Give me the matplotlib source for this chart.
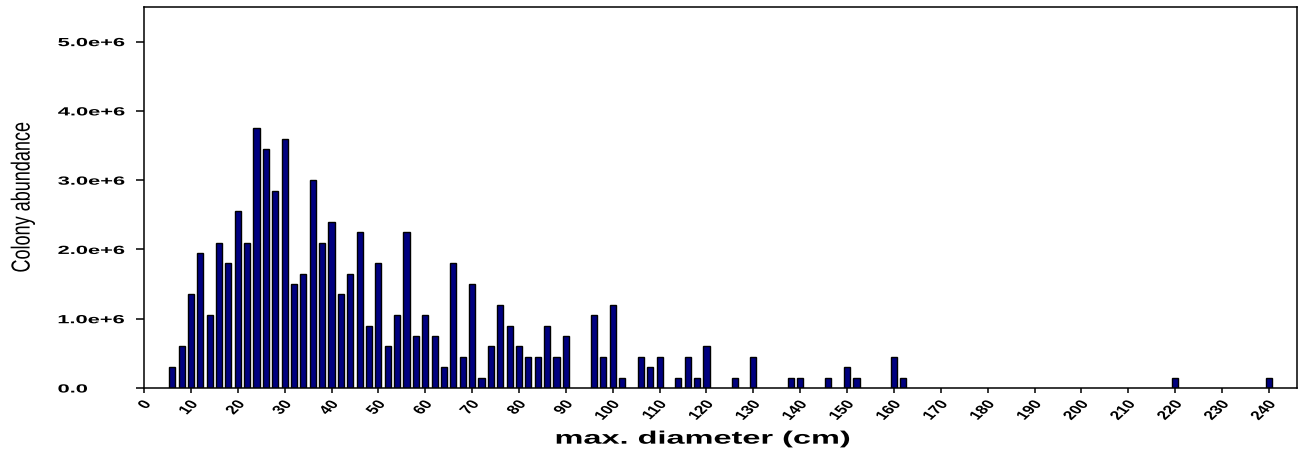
import matplotlib
matplotlib.use("Agg")
import matplotlib.pyplot as plt
from matplotlib.font_manager import FontProperties
from matplotlib.patheffects import AbstractPathEffect
from matplotlib.transforms import Affine2D

# ---- data ----
diameter_cm = [6, 8, 10, 12, 14, 16, 18, 20, 22, 24, 26, 28, 30, 32, 34, 36, 38, 40,
               42, 44, 46, 48, 50, 52, 54, 56, 58, 60, 62, 64, 66, 68, 70, 72, 74,
               76, 78, 80, 82, 84, 86, 88, 90, 96, 98, 100, 102, 106, 108, 110, 114,
               116, 118, 120, 126, 130, 138, 140, 146, 150, 152, 160, 162, 220, 240]
colony_abundance = [3.0e5, 6.0e5, 1.35e6, 1.95e6, 1.05e6, 2.10e6, 1.80e6, 2.55e6, 2.10e6,
                    3.75e6, 3.45e6, 2.85e6, 3.60e6, 1.50e6, 1.65e6, 3.00e6, 2.10e6, 2.40e6,
                    1.35e6, 1.65e6, 2.25e6, 9.0e5, 1.80e6, 6.0e5, 1.05e6, 2.25e6, 7.5e5,
                    1.05e6, 7.5e5, 3.0e5, 1.80e6, 4.5e5, 1.50e6, 1.5e5, 6.0e5, 1.20e6,
                    9.0e5, 6.0e5, 4.5e5, 4.5e5, 9.0e5, 4.5e5, 7.5e5, 1.05e6, 4.5e5, 1.20e6,
                    1.5e5, 4.5e5, 3.0e5, 4.5e5, 1.5e5, 4.5e5, 1.5e5, 6.0e5, 1.5e5, 4.5e5,
                    1.5e5, 1.5e5, 1.5e5, 3.0e5, 1.5e5, 4.5e5, 1.5e5, 1.5e5, 1.5e5]
x_ticks = list(range(0, 241, 10))
x_tick_labels = [str(v) for v in x_ticks]
y_ticks = [0, 1e6, 2e6, 3e6, 4e6, 5e6]
y_tick_labels = ["0.0", "1.0e+6", "2.0e+6", "3.0e+6", "4.0e+6", "5.0e+6"]
x_label = "max. diameter (cm)"
y_label = "Colony abundance"


class HStretch(AbstractPathEffect):
    """Stretch rendered glyphs horizontally (text stays real text)."""
    def __init__(self, sx, anchor="center"):
        super().__init__()
        self.sx = sx
        self.anchor = anchor

    def draw_path(self, renderer, gc, tpath, affine, rgbFace=None):
        bb = tpath.get_extents(affine)
        if self.anchor == "left":
            cx = bb.x0
        elif self.anchor == "right":
            cx = bb.x1
        else:
            cx = 0.5 * (bb.x0 + bb.x1)
        t = affine + Affine2D().translate(-cx, 0).scale(self.sx, 1).translate(cx, 0)
        renderer.draw_path(gc, tpath, t, rgbFace)


FAM = ["Liberation Sans", "DejaVu Sans"]

fig = plt.figure(figsize=(12.99, 4.51), dpi=100)
ax = fig.add_axes([0.1109, 0.1397, 0.8876, 0.8448])

ax.bar(diameter_cm, colony_abundance, width=1.3, color="#000080",
       edgecolor="black", linewidth=1.0, zorder=2)

ax.set_xlim(0, 246)
ax.set_ylim(0, 5.5e6)

for s in ax.spines.values():
    s.set_linewidth(1.1)
    s.set_color("black")

ax.set_xticks(x_ticks)
ax.set_xticklabels(x_tick_labels)
ax.set_yticks(y_ticks)
ax.set_yticklabels(y_tick_labels)

ax.tick_params(axis="y", direction="out", length=6, width=1.1, pad=56)
ax.tick_params(axis="x", direction="out", length=3.6, width=1.1, pad=4)

for lbl in ax.get_yticklabels():
    lbl.set_fontproperties(FontProperties(family=FAM, weight="bold", size=8.5))
    lbl.set_ha("left")
    lbl.set_path_effects([HStretch(1.85, "left")])
for lbl in ax.get_xticklabels():
    lbl.set_fontproperties(FontProperties(family=FAM, weight="bold", size=9))
    lbl.set_rotation(52)
    lbl.set_ha("right")
    lbl.set_va("top")
    lbl.set_rotation_mode("anchor")
    lbl.set_path_effects([HStretch(1.4, "right")])

ax.set_xlabel(x_label, family=FAM, weight="bold", size=13)
ax.xaxis.label.set_path_effects([HStretch(1.8, "center")])
ax.xaxis.set_label_coords(0.4844, -0.112)

ax.set_ylabel(y_label, family=FAM, size=13)
ax.yaxis.label.set_va("center")
ax.yaxis.label.set_path_effects([HStretch(1.45, "center")])
ax.yaxis.set_label_coords(-0.105, 0.5)

fig.savefig("out.png", dpi=100)
